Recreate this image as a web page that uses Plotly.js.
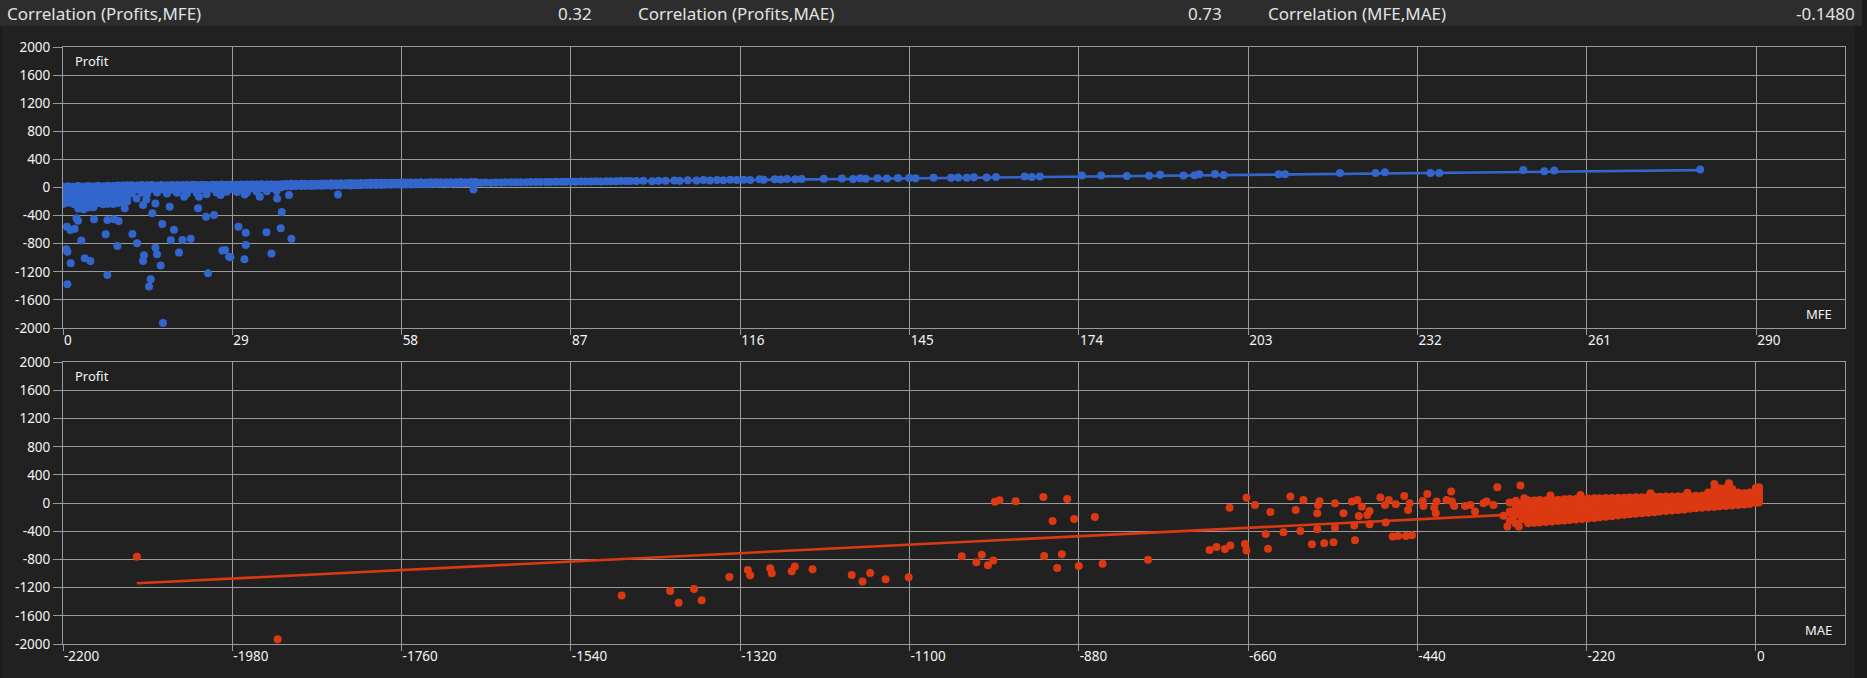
<!DOCTYPE html>
<html>
<head>
<meta charset="utf-8">
<script src="https://cdn.plot.ly/plotly-3.0.1.min.js"></script>
<style>
  html, body { margin: 0; padding: 0; background: #1b1b1b; }
  #chart { width: 1867px; height: 678px; }
</style>
</head>
<body>
<div id="chart"></div>
<script>
// ---------------- Header values ----------------
const headerLabels = ['Correlation (Profits,MFE)', 'Correlation (Profits,MAE)', 'Correlation (MFE,MAE)'];
const headerValues = ['0.32', '0.73', '-0.1480'];

// ---------------- Tick labels ----------------
const mfeTicks = [0, 29, 58, 87, 116, 145, 174, 203, 232, 261, 290];
const mfeTickText = ['0', '29', '58', '87', '116', '145', '174', '203', '232', '261', '290'];
const maeTicks = [-2200, -1980, -1760, -1540, -1320, -1100, -880, -660, -440, -220, 0];
const maeTickText = ['-2200', '-1980', '-1760', '-1540', '-1320', '-1100', '-880', '-660', '-440', '-220', '0'];
const profitTicks = [-2000, -1600, -1200, -800, -400, 0, 400, 800, 1200, 1600, 2000];
const profitTickText = ['-2000', '-1600', '-1200', '-800', '-400', '0', '400', '800', '1200', '1600', '2000'];

// ---------------- Profit vs MFE ----------------
// dense part: [MFE, profit, profit, ...]
const mfeDenseCols = [
  [0.1, 12, -48, -110, -170, -230], [0.9, 18, -40, -100, -160, -215], [1.8, 10, -55, -115, -175, -235],
  [2.6, 20, -45, -105, -170, -240, -300], [3.5, 14, -50, -110, -165, -230, -310], [4.3, 22, -42, -100, -160, -225, -285],
  [5.2, 15, -48, -108, -172, -235, -280], [6.0, 25, -40, -100, -165, -225], [6.9, 18, -45, -112, -170, -240],
  [7.7, 24, -38, -98, -160, -230], [8.6, 20, -44, -105, -175, -235], [9.4, 28, -35, -95, -155, -220],
  [10.2, 30, -30, -90, -150, -215], [11.0, 32, -28, -85, -145, -200],
  [11.8, 32, -25, -80], [12.7, 30, -30], [13.5, 34, -20, -75], [14.4, 31, -28, -90], [15.2, 35, -22],
  [16.1, 30, -30, -70], [16.9, 36, -25], [17.8, 33, -20, -85], [18.6, 35, -32], [19.5, 37, -24, -75],
  [20.4, 34, -20], [21.2, 36, -28, -90], [22.1, 38, -22], [22.9, 35, -30, -80], [23.8, 39, -20],
  [24.6, 36, -25, -95], [25.5, 40, -18], [26.3, 38, -26, -70], [27.2, 41, -20], [28.0, 39, -15, -60],
  [28.9, 42, -22], [29.8, 40, -12, -65], [30.6, 43, -18], [31.5, 41, -10, -70], [32.3, 44, -15],
  [33.2, 42, -8, -60], [34.0, 45, -12], [34.9, 43, -5, -55], [35.7, 46, -10], [36.6, 44, 0, -50], [37.4, 47, 5],
  [38.2, 51, 17], [39.1, 52, 18], [39.9, 50, 22], [40.8, 54, 20], [41.6, 53, 23], [42.5, 55, 22],
  [43.3, 54, 25], [44.2, 57, 24], [45.0, 56, 27], [45.9, 59, 26], [46.8, 58, 28], [47.6, 61, 28],
  [48.5, 60, 31], [49.3, 63, 30], [50.2, 62, 33], [51.0, 64, 32], [51.9, 63, 35], [52.7, 66, 34],
  [53.6, 67, 36], [54.5, 68, 35], [55.3, 67, 38], [56.2, 69, 38], [57.0, 68, 41], [57.9, 71, 40],
  [58.7, 70, 43], [59.6, 72, 42], [60.4, 71, 45], [61.3, 73, 46], [62.2, 72, 48], [63.0, 74, 49],
  [63.9, 73, 51], [64.7, 75, 52], [65.6, 74, 54], [66.4, 76, 55], [67.3, 75, 57], [68.1, 77, 58],
  [69.0, 76, 60], [69.9, 78, 61], [70.7, 77, 63],
  [71.6, 69], [72.4, 70], [73.3, 69], [74.1, 72], [75.0, 71], [75.8, 73], [76.7, 74], [77.6, 73],
  [78.4, 76], [79.3, 75], [80.1, 77], [81.0, 78], [81.8, 77], [82.7, 80], [83.5, 79], [84.4, 81],
  [85.3, 82], [86.1, 81], [87.0, 84], [87.8, 83], [88.7, 85], [89.5, 86], [90.4, 85], [91.2, 88],
  [92.1, 87], [93.0, 89], [93.8, 90], [94.7, 89], [95.5, 92], [96.4, 91], [97.2, 93]
];
// scattered trades: [MFE, profit]
const mfeScatter = [
  [0.69, -558], [1.26, -605], [2.0, -586], [0.58, -879], [0.75, -913], [1.32, -1078], [0.75, -1376],
  [2.3, -439], [2.57, -472], [3.15, -756], [3.72, -1007], [4.69, -1045], [5.31, -453], [7.31, -666],
  [7.6, -463], [8.74, -453], [9.54, -477], [7.6, -1244], [9.31, -832], [10.57, -297], [11.88, -662],
  [12.68, -794], [13.7, -250], [14.27, -170], [13.7, -1045], [13.87, -965], [14.73, -1410], [15.02, -1305],
  [15.3, -368], [15.83, -226], [15.83, -856], [16.1, -950], [16.73, -1111], [17.0, -520], [17.13, -1930],
  [18.27, -274], [18.45, -752], [19.0, -600], [19.87, -927], [20.45, -747], [20.73, -132], [21.87, -728],
  [23.13, -297], [23.3, -132], [24.5, -416], [25.87, -392], [24.84, -1220], [27.3, -898], [27.75, -889],
  [28.44, -984], [28.67, -993], [30.04, -558], [31.3, -643], [31.3, -818], [31.07, -1021], [34.84, -638],
  [35.7, -941], [36.66, -155], [37.29, -581], [37.46, -349], [38.71, -108], [39.12, -728], [47.1, -98],
  [12.6, -155], [27.0, -108], [31.1, -99], [33.7, -132], [70.3, -27],
  [98.2, 92], [99.4, 95], [100.9, 90], [102.0, 97], [103.2, 95], [104.7, 100], [105.6, 96], [107.0, 102],
  [108.5, 99], [109.7, 105], [110.8, 101], [112.0, 106], [113.1, 103], [114.3, 109], [115.4, 106],
  [116.6, 112], [117.7, 108], [119.3, 116], [120.0, 110], [121.9, 118], [122.9, 114], [124.0, 120],
  [125.4, 116], [126.5, 122], [130.3, 125], [133.4, 128], [135.3, 122], [136.5, 130], [137.5, 126],
  [139.5, 131], [141.1, 128], [143.0, 134], [144.9, 137], [146.0, 132], [149.1, 140], [152.1, 138],
  [153.3, 143], [154.8, 140], [156.0, 146], [158.2, 143], [159.8, 148], [164.7, 155], [165.9, 150],
  [167.3, 157], [174.5, 170], [177.8, 172], [182.2, 165], [186.0, 168], [187.9, 182], [191.9, 170],
  [193.8, 176], [194.6, 190], [197.3, 192], [198.8, 178], [208.2, 188], [209.3, 188], [218.7, 205],
  [224.8, 205], [226.4, 218], [234.2, 207], [235.7, 207], [250.1, 250], [253.7, 230], [255.4, 242],
  [280.4, 258]
];
const mfeTrendX = [0, 280.4];
const mfeTrendY = [5, 247];

// ---------------- Profit vs MAE ----------------
const maeDenseCols = [
  [-320, 10, -120, -250], [-312, 35, -60, -160, -290],
  [-304, -5, -100, -230], [-296, 40, -40, -130, -200, -285],
  [-288, 38, -28, -94, -160, -222, -280], [-281, 45, -20, -85, -150, -215, -275],
  [-273, 42, -22, -88, -152, -212, -268], [-265, 50, -15, -80, -145, -205, -262],
  [-257, 48, -18, -84, -148, -200, -255], [-249, 55, -10, -75, -140, -195, -248],
  [-242, 58, -8, -72, -135, -190, -240], [-234, 60, -5, -70, -132, -185, -232],
  [-226, 62, -2, -66, -128, -180, -225], [-218, 65, 0, -62, -125, -175, -218],
  [-210, 68, 3, -60, -120, -170, -210], [-203, 70, 5, -56, -115, -165, -200],
  [-195, 72, 8, -52, -110, -160, -192], [-187, 74, 10, -50, -105, -155, -185],
  [-179, 76, 14, -45, -100, -150, -175], [-171, 78, 16, -42, -96, -145, -165],
  [-164, 80, 18, -40, -92, -140, -158], [-156, 83, 22, -36, -88, -135, -150],
  [-148, 85, 25, -32, -85, -130, -142], [-140, 87, 28, -30, -80, -125, -135],
  [-132, 90, 30, -26, -76, -120, -128], [-125, 92, 34, -22, -72, -112, -120],
  [-117, 94, 36, -18, -68, -105, -112], [-109, 96, 40, -15, -64, -98, -105],
  [-101, 98, 42, -12, -60, -92, -98], [-93, 100, 45, -8, -55, -88, -90],
  [-86, 102, 48, -5, -50, -80], [-78, 104, 52, 0, -45, -72], [-70, 106, 55, 4, -40, -65],
  [-62, 150, 100, 50, 5, -35, -58], [-54, 200, 150, 100, 50, 8, -30, -52],
  [-47, 210, 160, 110, 60, 12, -25, -46], [-39, 215, 165, 115, 65, 18, -20, -40],
  [-31, 205, 155, 105, 58, 15, -15, -35], [-23, 150, 100, 55, 18, -10, -28],
  [-15, 140, 100, 55, 20, -5, -20], [-8, 150, 105, 60, 25, 0, -12],
  [0, 215, 165, 115, 70, 30, 5], [4, 225, 175, 125, 80, 40, 10]
];
const maeScatter = [
  [-2104, -760], [-1921, -1933],
  [-1474, -1313], [-1411, -1247], [-1400, -1413], [-1380, -1218], [-1370, -1379], [-1334, -1048],
  [-1310, -948], [-1307, -1024], [-1281, -925], [-1279, -996], [-1253, -967], [-1249, -901],
  [-1226, -939], [-1175, -1020], [-1161, -1114], [-1151, -991], [-1131, -1081], [-1101, -1052],
  [-1032, -755], [-1013, -840], [-1006, -731], [-998, -882], [-991, -816], [-989, 21], [-983, 41],
  [-962, 27], [-926, 88], [-895, 60], [-914, -253], [-886, -224], [-859, -196], [-925, -750],
  [-902, -726], [-908, -920], [-880, -892], [-849, -859], [-790, -802],
  [-710, -664], [-701, -622], [-690, -650], [-683, -603], [-684, -64], [-664, -579], [-662, -674],
  [-662, 78], [-651, -26], [-631, -125], [-637, -437], [-634, -646],
  [-614, -414], [-605, 93], [-598, -97], [-592, -395], [-588, 45], [-577, -584], [-570, -371],
  [-570, -144], [-569, -26], [-567, 27], [-561, -570], [-549, -556], [-547, -347], [-547, 0],
  [-536, -144], [-525, 22], [-522, -319], [-521, -527], [-518, 45], [-516, -182], [-512, -49],
  [-505, -168], [-502, -111], [-502, -300], [-488, 79], [-482, -26], [-481, -276], [-477, 45],
  [-468, -16], [-472, -475], [-465, -466], [-455, -466], [-447, -456], [-457, 102], [-452, -97],
  [-450, 0], [-433, 31], [-432, -40], [-427, 131], [-418, -64], [-416, -144], [-415, 22],
  [-402, 45], [-396, 164], [-395, 22], [-392, -40], [-378, -40], [-371, -26], [-365, -120],
  [-354, 0], [-350, 22], [-341, -26], [-336, 225], [-323, -333], [-306, 249],
  [-301, 69], [-267, 107], [-228, 116], [-137, 140], [-89, 149], [-54, 273], [-35, 282],
  [-328, -180], [-316, -210], [-308, -330], [-300, -150]
];
const maeTrendX = [-2104, 5];
const maeTrendY = [-1138, 13];

// ---------------- helpers ----------------
function unpack(cols, pairs) {
  const x = [], y = [];
  cols.forEach(c => { for (let i = 1; i < c.length; i++) { x.push(c[0]); y.push(c[i]); } });
  pairs.forEach(p => { x.push(p[0]); y.push(p[1]); });
  return {x, y};
}
const mfePts = unpack(mfeDenseCols, mfeScatter);
const maePts = unpack(maeDenseCols, maeScatter);

const BLUE = '#3366cc', RED = '#dc3912';
const GRID = '#9a9a9a', TXT = '#f4f4f4';
const FONT = '"Segoe UI", "Noto Sans", sans-serif';

const traces = [
  {x: mfePts.x, y: mfePts.y, type: 'scatter', mode: 'markers', xaxis: 'x', yaxis: 'y',
   marker: {color: BLUE, size: 8, line: {width: 0}}, hoverinfo: 'skip'},
  {x: mfeTrendX, y: mfeTrendY, type: 'scatter', mode: 'lines', xaxis: 'x', yaxis: 'y',
   line: {color: BLUE, width: 2.6}, hoverinfo: 'skip'},
  {x: maePts.x, y: maePts.y, type: 'scatter', mode: 'markers', xaxis: 'x2', yaxis: 'y2',
   marker: {color: RED, size: 8, line: {width: 0}}, hoverinfo: 'skip'},
  {x: maeTrendX, y: maeTrendY, type: 'scatter', mode: 'lines', xaxis: 'x2', yaxis: 'y2',
   line: {color: RED, width: 2.6}, hoverinfo: 'skip'}
];

const L = 63, R = 22, T = 47, B = 34, W = 1867, H = 678;
const pw = W - L - R, ph = H - T - B;
const px2x = p => (p - L) / pw;
const px2y = p => (H - B - p) / ph;

function axisX(ticks, text, range, anchor) {
  return {range: range, tickvals: ticks, ticktext: text, ticks: 'outside', ticklen: 6, tickcolor: GRID,
    tickwidth: 1, showgrid: true, gridcolor: GRID, gridwidth: 1, zeroline: false, showline: true,
    linecolor: GRID, linewidth: 1, mirror: true, anchor: anchor, ticklabelposition: 'outside right',
    tickfont: {family: FONT, size: 13.5, color: TXT}, fixedrange: true};
}
function axisY(domain, anchor) {
  return {domain: domain, range: [-2000, 2000], tickvals: profitTicks, ticktext: profitTickText,
    ticks: 'outside', ticklen: 9, tickcolor: GRID, tickwidth: 1, showgrid: true, gridcolor: GRID,
    gridwidth: 1, zeroline: false, showline: true, linecolor: GRID, linewidth: 1, mirror: true,
    anchor: anchor, tickfont: {family: FONT, size: 13.5, color: TXT}, fixedrange: true};
}

const annotations = [];
const labelX = [4.5, 636, 1266];
const valueX = [594, 1224, 1857];
headerLabels.forEach((t, i) => {
  annotations.push({text: t, xref: 'paper', yref: 'paper', x: px2x(labelX[i]), y: px2y(13),
    xanchor: 'left', yanchor: 'middle', showarrow: false, font: {family: FONT, size: 17, color: '#e2e2e2'}});
  annotations.push({text: headerValues[i], xref: 'paper', yref: 'paper', x: px2x(valueX[i]), y: px2y(13),
    xanchor: 'right', yanchor: 'middle', showarrow: false, font: {family: FONT, size: 17, color: '#e2e2e2'}});
});
[['x domain', 'y domain'], ['x2 domain', 'y2 domain']].forEach((r, i) => {
  annotations.push({text: 'Profit', xref: r[0], yref: r[1], x: 0, y: 1, xshift: 10, yshift: -14,
    xanchor: 'left', yanchor: 'middle', showarrow: false, font: {family: FONT, size: 13, color: TXT}});
  annotations.push({text: i === 0 ? 'MFE' : 'MAE', xref: r[0], yref: r[1], x: 1, y: 0, xshift: -11, yshift: 14,
    xanchor: 'right', yanchor: 'middle', showarrow: false, font: {family: FONT, size: 13, color: TXT}});
});

const shapes = [
  {type: 'rect', xref: 'paper', yref: 'paper', x0: px2x(2), x1: px2x(1855), y0: px2y(678), y1: px2y(26),
   fillcolor: '#212121', line: {width: 0}, layer: 'below'},
  {type: 'rect', xref: 'paper', yref: 'paper', x0: px2x(0), x1: px2x(1862), y0: px2y(26), y1: px2y(0),
   fillcolor: '#2d2d2d', line: {width: 0}, layer: 'below'}
];

const layout = {
  width: W, height: H,
  margin: {l: L, r: R, t: T, b: B, pad: 0},
  paper_bgcolor: '#1b1b1b', plot_bgcolor: '#212121',
  showlegend: false,
  font: {family: FONT, color: TXT, size: 13},
  xaxis: Object.assign(axisX(mfeTicks, mfeTickText, [0, 305.2], 'y'), {domain: [0, 1]}),
  yaxis: axisY([px2y(328), 1], 'x'),
  xaxis2: Object.assign(axisX(maeTicks, maeTickText, [-2200, 115.8], 'y2'), {domain: [0, 1]}),
  yaxis2: axisY([0, px2y(362.3)], 'x2'),
  annotations: annotations,
  shapes: shapes
};

Plotly.newPlot('chart', traces, layout, {staticPlot: true, displayModeBar: false});
</script>
</body>
</html>
